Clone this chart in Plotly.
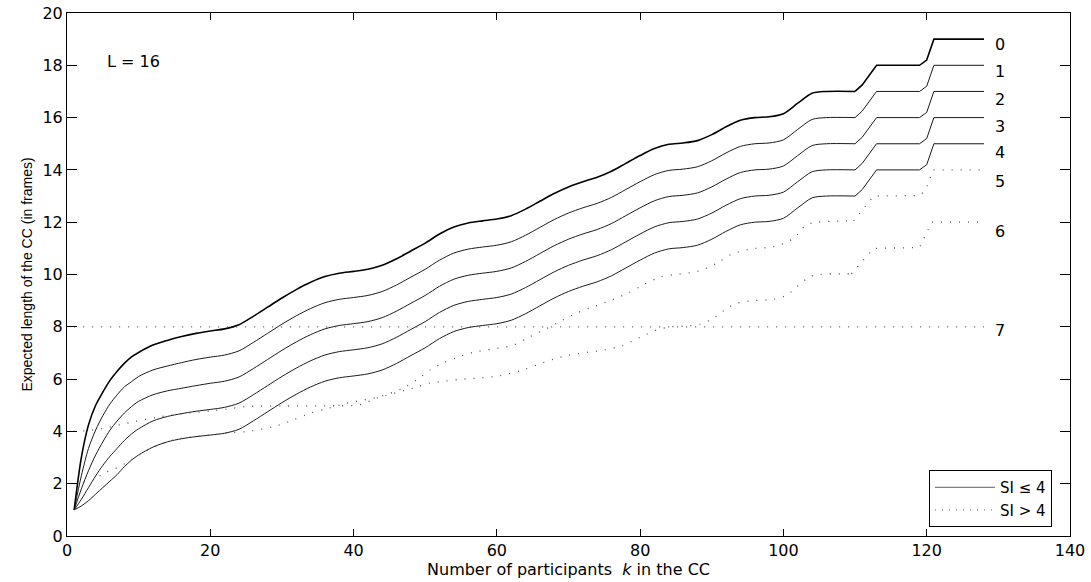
import plotly.graph_objects as go

# ---------------- data ----------------
k_solid = [1, 2, 3, 4, 5, 6, 7, 8, 9, 10, 12, 14, 16, 18, 20, 22, 24, 26, 28, 30, 32, 34, 36, 38,
           40, 42, 44, 46, 48, 50, 52, 54, 56, 58, 60, 62, 64, 66, 68, 70, 72, 74, 76, 78, 80,
           82, 84, 86, 88, 90, 92, 94, 96, 98, 100, 102, 104, 106, 110, 111, 113, 119, 120, 121, 128]

si0 = [1.0, 3.0, 4.25, 5.0, 5.5, 5.95, 6.3, 6.6, 6.85, 7.02, 7.3, 7.48, 7.63, 7.75, 7.84, 7.92,
       8.08, 8.4, 8.75, 9.1, 9.42, 9.7, 9.92, 10.05, 10.12, 10.2, 10.35, 10.6, 10.9, 11.2, 11.55,
       11.82, 11.97, 12.05, 12.12, 12.25, 12.5, 12.8, 13.1, 13.35, 13.55, 13.72, 13.95, 14.25,
       14.55, 14.82, 14.98, 15.03, 15.12, 15.35, 15.65, 15.9, 16.0, 16.03, 16.15, 16.55, 16.93,
       17.0, 17.0, 17.25, 18.0, 18.0, 18.2, 19.0, 19.0]
si1 = [1.0, 2.3, 3.35, 4.05, 4.6, 5.05, 5.4, 5.7, 5.9, 6.1, 6.35, 6.5, 6.63, 6.75, 6.84, 6.92,
       7.08, 7.4, 7.75, 8.1, 8.42, 8.7, 8.92, 9.05, 9.12, 9.2, 9.35, 9.6, 9.9, 10.2, 10.55,
       10.82, 10.97, 11.05, 11.12, 11.25, 11.5, 11.8, 12.1, 12.35, 12.55, 12.72, 12.95, 13.25,
       13.55, 13.82, 13.98, 14.03, 14.12, 14.35, 14.65, 14.9, 15.0, 15.03, 15.15, 15.55, 15.93,
       16.0, 16.0, 16.25, 17.0, 17.0, 17.2, 18.0, 18.0]
si2 = [1.0, 1.8, 2.5, 3.1, 3.6, 4.05, 4.4, 4.7, 4.95, 5.15, 5.4, 5.55, 5.65, 5.75, 5.84, 5.92,
       6.08, 6.4, 6.75, 7.1, 7.42, 7.7, 7.92, 8.05, 8.12, 8.2, 8.35, 8.6, 8.9, 9.2, 9.55,
       9.82, 9.97, 10.05, 10.12, 10.25, 10.5, 10.8, 11.1, 11.35, 11.55, 11.72, 11.95, 12.25,
       12.55, 12.82, 12.98, 13.03, 13.12, 13.35, 13.65, 13.9, 14.0, 14.03, 14.15, 14.55, 14.93,
       15.0, 15.0, 15.25, 16.0, 16.0, 16.2, 17.0, 17.0]
si3 = [1.0, 1.4, 1.85, 2.3, 2.7, 3.05, 3.35, 3.65, 3.9, 4.1, 4.4, 4.57, 4.68, 4.77, 4.84, 4.92,
       5.08, 5.4, 5.75, 6.1, 6.42, 6.7, 6.92, 7.05, 7.12, 7.2, 7.35, 7.6, 7.9, 8.2, 8.55,
       8.82, 8.97, 9.05, 9.12, 9.25, 9.5, 9.8, 10.1, 10.35, 10.55, 10.72, 10.95, 11.25,
       11.55, 11.82, 11.98, 12.03, 12.12, 12.35, 12.65, 12.9, 13.0, 13.03, 13.15, 13.55, 13.93,
       14.0, 14.0, 14.25, 15.0, 15.0, 15.2, 16.0, 16.0]
si4 = [1.0, 1.15, 1.35, 1.6, 1.85, 2.1, 2.35, 2.65, 2.9, 3.1, 3.4, 3.6, 3.72, 3.8, 3.86, 3.93,
       4.08, 4.4, 4.75, 5.1, 5.42, 5.7, 5.92, 6.05, 6.12, 6.2, 6.35, 6.6, 6.9, 7.2, 7.55,
       7.82, 7.97, 8.05, 8.12, 8.25, 8.5, 8.8, 9.1, 9.35, 9.55, 9.72, 9.95, 10.25,
       10.55, 10.82, 10.98, 11.03, 11.12, 11.35, 11.65, 11.9, 12.0, 12.03, 12.15, 12.55, 12.93,
       13.0, 13.0, 13.25, 14.0, 14.0, 14.2, 15.0, 15.0]

k_si5 = [1, 3.7, 5.1, 6.5, 8.3, 9.3, 11, 13, 15, 17, 20, 22.8, 25, 28.8, 31.6, 33.9, 36, 38.6, 41,
         43.7, 46.9, 48.8, 50.7, 52.5, 54.2, 56.7, 59.5, 62.3, 64.6, 67, 68.8, 71.1, 73.5, 76,
         78.4, 80.4, 83, 85, 87, 88.4, 90.7, 92.8, 95.3, 98.1, 99.5, 101.4, 103.2, 104.6, 109.8,
         112.6, 119, 119.8, 120.9, 128]
si5 = [2.0, 2.14, 2.4, 2.55, 2.8, 2.97, 3.25, 3.5, 3.68, 3.78, 3.86, 3.95, 3.99, 4.18, 4.44, 4.69,
       4.85, 5.05, 5.18, 5.33, 5.65, 5.97, 6.35, 6.62, 6.8, 7.03, 7.15, 7.3, 7.62, 7.94, 8.2,
       8.52, 8.77, 9.02, 9.3, 9.6, 9.92, 10.0, 10.07, 10.15, 10.43, 10.78, 10.97, 11.04, 11.13,
       11.38, 11.89, 12.0, 12.05, 13.0, 13.02, 13.2, 14.0, 14.0]

k_si6 = [1, 2.5, 5.1, 9.3, 13, 17, 20, 22.3, 25, 30, 36, 40.9, 43.2, 48.3, 50.6, 52.1, 54.9,
         57.6, 60.4, 63.2, 65.6, 67.9, 69.8, 72.5, 74.9, 77.5, 80, 82.3, 84.2, 86.5, 88.4, 90.2,
         92.1, 93.5, 95.8, 98.6, 100.5, 101.9, 103.7, 105.1, 109.5, 112.6, 119, 120.7, 128]
si6 = [4.0, 4.02, 4.12, 4.37, 4.56, 4.7, 4.78, 4.85, 4.95, 4.97, 4.98, 5.02, 5.27, 5.65, 5.85,
       5.9, 5.99, 6.04, 6.13, 6.31, 6.54, 6.76, 6.9, 7.02, 7.11, 7.28, 7.6, 7.88, 8.0, 8.03, 8.1,
       8.32, 8.7, 8.9, 9.0, 9.05, 9.22, 9.53, 9.92, 10.0, 10.03, 11.0, 11.03, 12.0, 12.0]

k_si7 = [1, 128]
si7 = [8.0, 8.0]

curve_labels = ["0", "1", "2", "3", "4", "5", "6", "7"]
label_y = [18.8, 17.75, 16.7, 15.65, 14.65, 13.55, 11.65, 7.85]

# ---------------- figure ----------------
fig = go.Figure()


def add_curve(kx, ys, split_k, line):
    """Smooth part up to split_k (spline), step part after it (straight segments)."""
    i = kx.index(split_k)
    fig.add_trace(go.Scatter(x=kx[:i + 1], y=ys[:i + 1], mode="lines",
                             line=dict(shape="spline", smoothing=0.8, **line),
                             showlegend=False, hoverinfo="skip"))
    fig.add_trace(go.Scatter(x=kx[i:], y=ys[i:], mode="lines",
                             line=dict(shape="linear", **line),
                             showlegend=False, hoverinfo="skip"))


solid = [si0, si1, si2, si3, si4]
for n, ys in enumerate(solid):
    add_curve(k_solid, ys, 110,
              dict(color="#000000" if n == 0 else "#1a1a1a", width=1.6 if n == 0 else 1.0))

dot_style = dict(color="#555555", width=1.3, dash="1px,8px")
add_curve(k_si5, si5, 109.8, dot_style)
add_curve(k_si6, si6, 109.5, dot_style)
fig.add_trace(go.Scatter(x=k_si7, y=si7, mode="lines", line=dot_style,
                         showlegend=False, hoverinfo="skip"))

# legend entries
fig.add_trace(go.Scatter(x=[None], y=[None], mode="lines", name="SI ≤ 4",
                         line=dict(color="#808080", width=1.3)))
fig.add_trace(go.Scatter(x=[None], y=[None], mode="lines", name="SI > 4",
                         line=dict(color="#808080", width=1.3, dash="1px,6px")))

for lab, ly in zip(curve_labels, label_y):
    fig.add_annotation(x=129.2, y=ly, text=lab, showarrow=False, xanchor="left",
                       yanchor="middle", font=dict(family="DejaVu Sans", size=16, color="#000"))

fig.add_annotation(x=5.3, y=18.13, text="L = 16", showarrow=False, xanchor="left",
                   yanchor="middle", font=dict(family="DejaVu Sans", size=16, color="#000"))

axis_common = dict(showgrid=False, zeroline=False, showline=True, linecolor="#000",
                   linewidth=1, mirror="ticks", ticks="inside", tickcolor="#000",
                   tickwidth=1,
                   tickfont=dict(family="DejaVu Sans", size=16, color="#000"))

fig.update_xaxes(range=[0, 140], tickmode="linear", tick0=0, dtick=20, ticklen=7,
                 title=dict(text="Number of participants  <i>k</i> in the CC",
                            font=dict(family="DejaVu Sans", size=16, color="#000"),
                            standoff=0),
                 **axis_common)
fig.update_yaxes(range=[0, 20], tickmode="linear", tick0=0, dtick=2, ticklen=10,
                 title=dict(text="Expected length of the CC (in frames)",
                            font=dict(family="Liberation Sans", size=14, color="#000"),
                            standoff=6),
                 **axis_common)

fig.update_layout(
    width=1091, height=582,
    margin=dict(l=67, r=21, t=13, b=46, autoexpand=False),
    paper_bgcolor="white", plot_bgcolor="white",
    legend=dict(x=0.982, y=0.017, xanchor="right", yanchor="bottom",
                bgcolor="white", bordercolor="#000", borderwidth=1,
                font=dict(family="DejaVu Sans", size=15, color="#000"),
                tracegroupgap=0, itemwidth=60),
)

fig.write_html("out.html")
